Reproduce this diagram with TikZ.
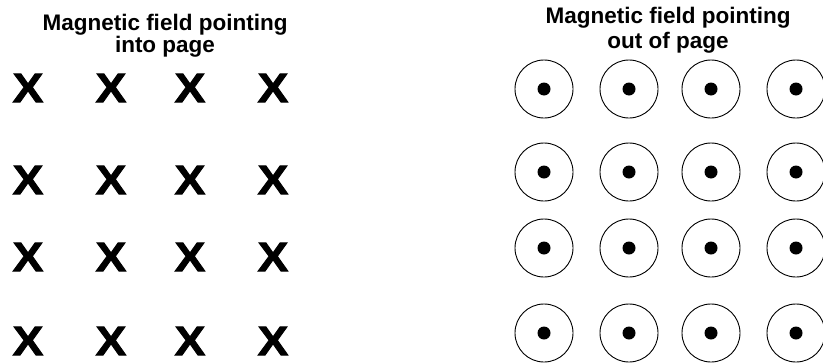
\documentclass[tikz,border=0pt]{standalone}
\usepackage{fontspec}
\setmainfont{Liberation Sans}
\newfontfamily\heavyfont{Liberation Sans Bold}[FakeBold=2]
\usetikzlibrary{positioning}
\tikzset{heading/.style={font=\bfseries\fontsize{22.5}{20}\selectfont,align=center,inner sep=0pt},
intox/.style={font=\heavyfont\fontsize{41}{41}\selectfont,inner sep=0pt,xscale=1.12,transform shape},
ring/.style={draw,circle,minimum size=58pt,inner sep=0pt,line width=0.9pt},
dot/.style={fill=black,circle,minimum size=13pt,inner sep=0pt}}

\begin{document}
\begin{tikzpicture}[x=1pt,y=-1pt]
		\useasboundingbox (0,0) rectangle (823,362);
		% field into the page
		\node[heading,anchor=base,font=\bfseries\fontsize{22.5}{21.5}\selectfont] (intitle) at (165,52) {Magnetic field pointing\\into page};
		\foreach \col/\xx in {1/28,2/111,3/190,4/273}
			\foreach \row/\yy in {1/88,2/180,3/257,4/341}
				\node[intox] (x\row\col) at (\xx,\yy) {X};
		% field out of the page
		\node[heading,anchor=base,font=\bfseries\fontsize{22.5}{25}\selectfont] (outtitle) at (668,48) {Magnetic field pointing\\out of page};
		\foreach \col/\xx in {1/544,2/629,3/711,4/796}
			\foreach \row/\yy in {1/89,2/172,3/248,4/333}
				{
					\node[ring] (ring\row\col) at (\xx,\yy) {};
					\node[dot] (dot\row\col) at (ring\row\col) {};
				}
	\end{tikzpicture}
\end{document}
